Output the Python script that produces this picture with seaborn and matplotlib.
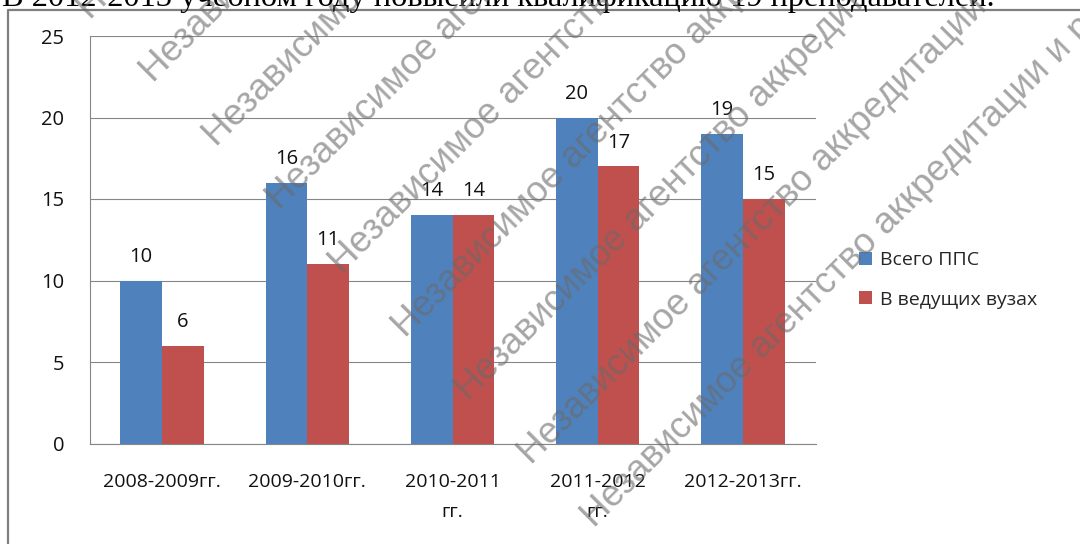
import pandas as pd
import numpy as np
import matplotlib
matplotlib.use("Agg")
import matplotlib.pyplot as plt
from matplotlib.lines import Line2D
import seaborn as sns

# data
periods = ["2008-2009гг.", "2009-2010гг.", "2010-2011\nгг.", "2011-2012\nгг.", "2012-2013гг."]
vsego_pps = [10, 16, 14, 20, 19]
v_veduschih = [6, 11, 14, 17, 15]
series_names = ["Всего ППС", "В ведущих вузах"]
colors = ["#4F81BD", "#C0504D"]

df = pd.DataFrame({
    "period": periods + periods,
    "value": vsego_pps + v_veduschih,
    "series": [series_names[0]] * 5 + [series_names[1]] * 5,
})

sns.set_style("white")
plt.rcParams["font.family"] = ["Open Sans", "DejaVu Sans"]

fig = plt.figure(figsize=(10.8, 5.44), dpi=100)
ax = fig.add_axes([89.5 / 1080, 1 - 443.5 / 544, 726 / 1080, 407.5 / 544])

sns.barplot(data=df, x="period", y="value", hue="series", palette=colors,
            width=0.575, saturation=1, errorbar=None, linewidth=0, ax=ax)

ax.set_ylim(0, 25)
ax.set_yticks(range(0, 26, 5))
ax.set_xlim(-0.5, 4.5)
ax.set_xlabel("")
ax.set_ylabel("")
ax.grid(axis="y", color="#868686", lw=0.8)
ax.set_axisbelow(True)
for s in ["top", "right"]:
    ax.spines[s].set_visible(False)
for s in ["left", "bottom"]:
    ax.spines[s].set_color("#868686")
    ax.spines[s].set_linewidth(0.8)

ax.tick_params(axis="y", length=7.2, width=0.8, color="#868686", pad=11,
               labelsize=14.5, labelcolor="#111111")
ax.tick_params(axis="x", which="major", length=0, pad=21, labelsize=14,
               labelcolor="#111111")
ax.set_xticks(np.arange(-0.5, 5, 1), minor=True)
ax.tick_params(axis="x", which="minor", length=5.5, width=0.8, color="#868686")
for lab in ax.get_xticklabels():
    lab.set_linespacing(1.85)

for c in ax.containers:
    ax.bar_label(c, padding=10, fontsize=14.5, color="#111111")

ax.legend(loc="center left", bbox_to_anchor=(859 / 1080, 1 - 280 / 544),
          bbox_transform=fig.transFigure, frameon=False, fontsize=14,
          handlelength=0.65, handleheight=0.65, handletextpad=0.45,
          labelspacing=1.1, borderpad=0, borderaxespad=0)

# chart frame (right and bottom edges are outside the picture)
fig.add_artist(Line2D([8 / 1080, 8 / 1080, 1.01], [-0.01, 1 - 10 / 544, 1 - 10 / 544],
                      transform=fig.transFigure, color="#7f7f7f", lw=1.6))

# clipped line of document text above the chart
fig.text(2 / 1080, 1 - 6 / 544,
         "В 2012-2013 учебном году повысили квалификацию 19 преподавателей.",
         family=["Liberation Serif", "DejaVu Serif"], fontsize=23.3,
         ha="left", va="baseline", color="black")

# diagonal watermark
wm = "Независимое агентство аккредитации и рейтинга"
for k in range(9):
    fig.text((90 + 63.1 * k) / 1080, 1 - (20 + 63.6 * k) / 544, wm,
             rotation=45, rotation_mode="anchor", ha="left", va="baseline",
             fontsize=26.5, color="#6a6a6a", alpha=0.6,
             family=["Liberation Sans", "DejaVu Sans"], zorder=10)

fig.savefig("out.png", dpi=100)
